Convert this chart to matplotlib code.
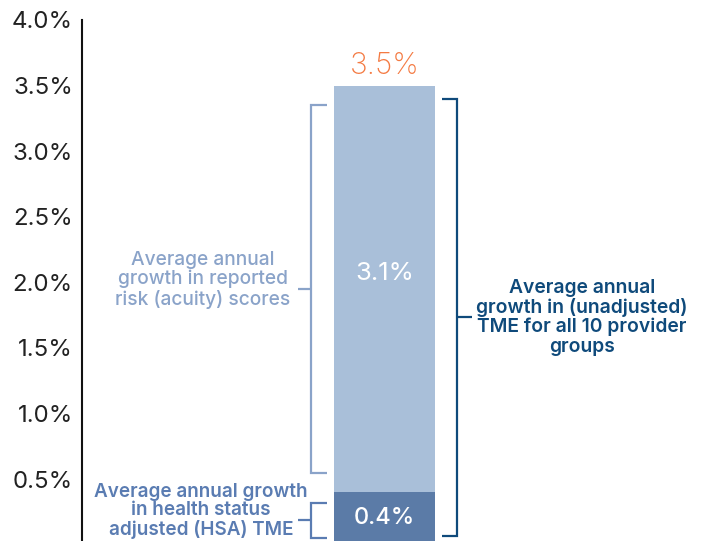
import matplotlib.pyplot as plt

# Components of average annual TME growth (percentage points)
segment_names = ["Health status adjusted (HSA) TME", "Reported risk (acuity) scores"]
segment_values = [0.4, 3.1]
total_growth = sum(segment_values)
tick_values = [0.5, 1.0, 1.5, 2.0, 2.5, 3.0, 3.5, 4.0]
tick_labels = [f"{v:.1f}%" for v in tick_values]

DARK_SEG = "#5b7ba7"
LIGHT_SEG = "#a9bfd9"
ORANGE = "#f47a42"
RISK_BLUE = "#8aa3c9"
HSA_BLUE = "#5a7cb2"
NAVY = "#0f4a7b"

plt.rcParams["font.family"] = ["Inter", "DejaVu Sans"]

fig = plt.figure(figsize=(7.04, 5.41), dpi=100)
ax = fig.add_axes([82 / 704, -3.7 / 541, 622 / 704, 524.7 / 541])
ax.set_xlim(-3.0, 3.163)
ax.set_ylim(0, 4.0)

# stacked bar
ax.bar(0, segment_values[0], width=1.0, color=DARK_SEG, linewidth=0)
ax.bar(0, segment_values[1], width=1.0, bottom=segment_values[0], color=LIGHT_SEG, linewidth=0)

# value labels
ax.text(0, total_growth + 0.04, f"{total_growth:.1f}%", ha="center", va="bottom",
        color=ORANGE, fontsize=21.5, fontweight="light")
ax.text(0, segment_values[0] + segment_values[1] / 2 + 0.12, f"{segment_values[1]:.1f}%",
        ha="center", va="center", color="white", fontsize=18.5)
ax.text(0, segment_values[0] / 2, f"{segment_values[0]:.1f}%",
        ha="center", va="center", color="white", fontsize=17, fontweight="medium")


def bracket(x, lo, hi, tip, stub, color):
    """Draw a square bracket at x spanning lo..hi, with end ticks reaching tip
    and a centre stub reaching stub."""
    ax.plot([tip, x, x, tip], [lo, lo, hi, hi], color=color, lw=1.6,
            solid_joinstyle="miter", solid_capstyle="butt", clip_on=False)
    mid = (lo + hi) / 2
    ax.plot([x, stub], [mid, mid], color=color, lw=1.6, solid_capstyle="butt", clip_on=False)
    return mid


# left brackets (risk scores, HSA TME) and right bracket (total)
m1 = bracket(-0.735, segment_values[0] + 0.15, total_growth - 0.15, -0.57, -0.86, RISK_BLUE)
m2 = bracket(-0.735, 0.05, segment_values[0] - 0.08, -0.57, -0.86, HSA_BLUE)
m3 = bracket(0.72, 0.07, total_growth - 0.10, 0.57, 0.86, NAVY)

ax.text(-1.80, m1 + 0.07, "Average annual\ngrowth in reported\nrisk (acuity) scores",
        ha="center", va="center", multialignment="center", color=RISK_BLUE,
        fontsize=13.8, fontweight="medium", linespacing=1.08)
ax.text(-1.82, 0.257, "Average annual growth\nin health status\nadjusted (HSA) TME",
        ha="center", va="center", multialignment="center", color=HSA_BLUE,
        fontsize=13.6, fontweight="semibold", linespacing=1.05)
ax.text(1.955, m3, "Average annual\ngrowth in (unadjusted)\nTME for all 10 provider\ngroups",
        ha="center", va="center", multialignment="center", color=NAVY,
        fontsize=13.9, fontweight="semibold", linespacing=1.08)

# axes styling
for side in ("top", "right", "bottom"):
    ax.spines[side].set_visible(False)
ax.spines["left"].set_linewidth(1.5)
ax.spines["left"].set_color("#111111")
ax.set_xticks([])
ax.set_yticks(tick_values)
ax.set_yticklabels(tick_labels)
ax.tick_params(axis="y", length=0, pad=6.5, labelsize=17.3, labelcolor="#222222")

fig.savefig("out.png", dpi=100)
